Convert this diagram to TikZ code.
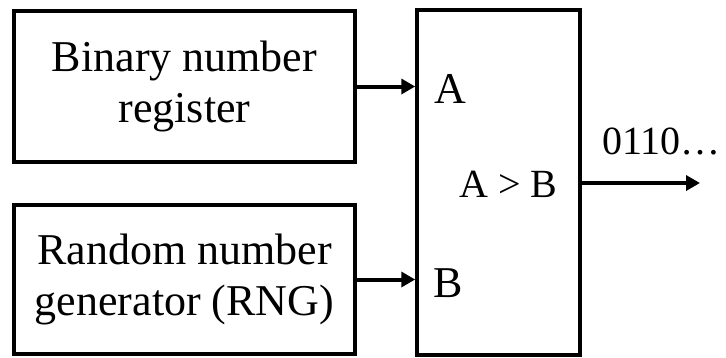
\documentclass[tikz,border=0pt]{standalone}
\usepackage{fontspec}
\setmainfont{Liberation Serif}
\usetikzlibrary{arrows.meta}
\tikzset{
  blockbox/.style={draw, line width=4pt, minimum width=341pt, align=center, inner sep=0pt,
    font=\fontsize{44}{51}\selectfont},
  cmpbox/.style={draw, line width=3.5pt, minimum width=163pt, minimum height=345pt, inner sep=0pt},
  lbl/.style={anchor=base west, inner sep=0pt, font=\fontsize{44}{51}\selectfont},
  sig/.style={line width=4pt, -{Triangle[length=14pt,width=15pt]}}
}
\begin{document}
\begin{tikzpicture}[x=1pt,y=-1pt]
\useasboundingbox (0,0) rectangle (726,357);
\node[blockbox, minimum height=151pt] (b1) at (184.5,86.5) {Binary number\\register};
\node[blockbox, minimum height=149pt] (b2) at (184.5,279.5) {Random number\\generator (RNG)};
\node[cmpbox] (cmp) at (498.5,182.5) {};
\node[lbl] (la) at (434,103) {A};
\node[lbl] (lb) at (433,297) {B};
\node[lbl, font=\fontsize{40}{47}\selectfont] (lab) at (459,197) {A > B};
\node[lbl, font=\fontsize{40}{47}\selectfont] (lout) at (602,154) {0110…};
\coordinate (out) at (700,183);
\draw[sig] (b1.east) -- (cmp.west |- b1.east);
\draw[sig] (b2.east) -- (cmp.west |- b2.east);
\draw[sig] (cmp.east |- out) -- (out);
\end{tikzpicture}
\end{document}
